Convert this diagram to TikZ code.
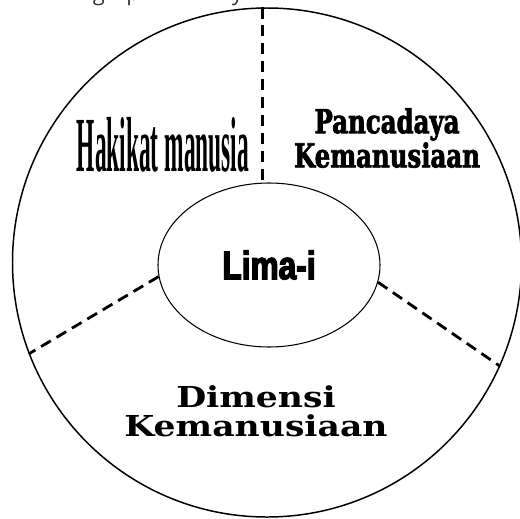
\documentclass[tikz,border=0pt]{standalone}
\usepackage{fontspec}
\usetikzlibrary{shapes.geometric}
\newfontfamily\tallserif[FakeStretch=0.30]{Liberation Serif Bold}
\newfontfamily\slabserif[FakeStretch=0.74,FakeBold=2]{DejaVu Serif Bold}
\newfontfamily\wideserif[FakeStretch=1.2]{DejaVu Serif Bold}
\newfontfamily\heavysans[FakeStretch=0.8,FakeBold=3.5]{Liberation Sans Bold}
\newfontfamily\captionsans{Open Sans}

\begin{document}
\begin{tikzpicture}[divider/.style={line width=1.6pt,dash pattern=on 6.4pt off 3.8pt}]
      \useasboundingbox (-5.34,-5.11) rectangle (5.06,5.25);
      % cut-off caption line above the picture
      \node[anchor=base,text=black!80,font=\captionsans\fontsize{12.5}{14}\selectfont] (topg) at (-3.36,5.24) {g};
      \node[anchor=base,text=black!80,font=\captionsans\fontsize{12.5}{14}\selectfont] (topp) at (-2.68,5.24) {p};
      \node[anchor=base,text=black!80,font=\captionsans\fontsize{12.5}{14}\selectfont] (topy) at (-0.59,5.24) {y};
      \node[circle,draw,line width=0.85pt,minimum size=10.18cm,inner sep=0pt] (wheel) at (0,0) {};
      \node[ellipse,draw,line width=0.6pt,minimum width=4.44cm,minimum height=3.28cm,inner sep=0pt,
            font=\heavysans\fontsize{22.5}{22}\selectfont] (core) at (0.04,-0.05) {Lima-i};
      \draw[divider] (wheel.91) -- (wheel.91 |- core.north);
      \draw[divider] (core.186.8) -- (wheel.201.4);
      \draw[divider] (core.351.4) -- (wheel.336.8);
      \node[anchor=base,font=\tallserif\fontsize{44.4}{44}\selectfont] (hakikat) at (-2.08,1.83) {Hakikat manusia};
      \node[align=center,font=\slabserif\fontsize{18.8}{17.6}\selectfont] (pancadaya) at (2.4,2.49) {Pancadaya\\Kemanusiaan};
      \node[align=center,font=\wideserif\fontsize{16.4}{16.5}\selectfont] (dimensi) at (-0.22,-2.98) {Dimensi\\Kemanusiaan};
\end{tikzpicture}
\end{document}
